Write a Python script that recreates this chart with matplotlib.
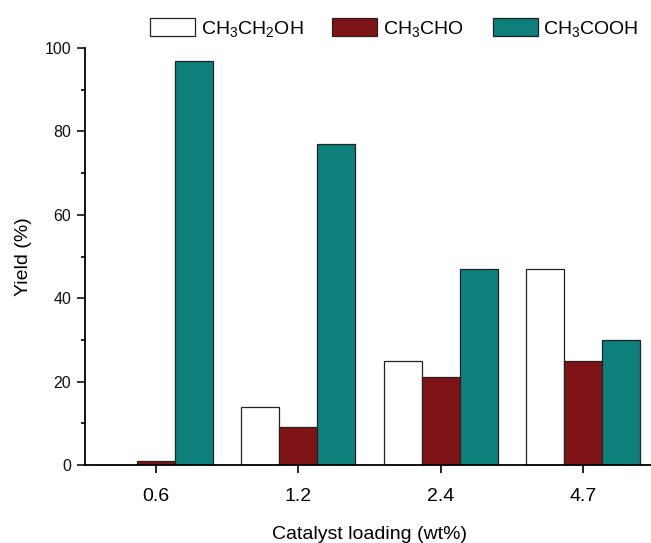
import numpy as np
import matplotlib
matplotlib.use('Agg')
import matplotlib.pyplot as plt

plt.rcParams['font.family'] = ['Liberation Sans', 'DejaVu Sans']
plt.rcParams['mathtext.default'] = 'regular'

# data
loadings = ['0.6', '1.2', '2.4', '4.7']
ethanol = [0, 14, 25, 47]
acetaldehyde = [1, 9, 21, 25]
acetic_acid = [97, 77, 47, 30]

labels = ['CH$_3$CH$_2$OH', 'CH$_3$CHO', 'CH$_3$COOH']
colors = ['white', '#7f1418', '#0e807c']

fig = plt.figure(figsize=(6.51, 5.43), dpi=100)
ax = fig.add_axes([0.1306, 0.1436, 0.874, 0.768])

x = np.arange(len(loadings))
w = 0.8 / 3
series = [ethanol, acetaldehyde, acetic_acid]
handles = []
for i, (vals, c, lab) in enumerate(zip(series, colors, labels)):
    b = ax.bar(x + (i - 1) * w, vals, width=w, color=c, edgecolor='#222222',
               linewidth=0.9, label=lab)
    handles.append(b)

ax.set_xlim(-0.5, 3.5)
ax.set_ylim(0, 100)
ax.set_xticks(x)
ax.set_xticklabels(loadings, fontsize=14)
ax.set_yticks(np.arange(0, 101, 20))
ax.set_yticks(np.arange(10, 100, 20), minor=True)
ax.tick_params(axis='y', which='major', labelsize=11.5, length=6, width=1.2, pad=4, colors='#111111')
ax.tick_params(axis='y', which='minor', length=3, width=1.2)
ax.tick_params(axis='x', which='major', length=6, width=1.2, pad=10.5)

for s in ['top', 'right']:
    ax.spines[s].set_visible(False)
for s in ['left', 'bottom']:
    ax.spines[s].set_linewidth(1.3)

ax.set_xlabel('Catalyst loading (wt%)', fontsize=14, labelpad=15)
ax.set_ylabel('Yield (%)', fontsize=14, labelpad=9)

fig.legend(handles=handles, loc='center', bbox_to_anchor=(0.606, 0.948),
           ncol=3, frameon=False, fontsize=14, handlelength=2.3,
           handleheight=1.1, handletextpad=0.3, columnspacing=1.5)

fig.savefig('out.png', dpi=100)
